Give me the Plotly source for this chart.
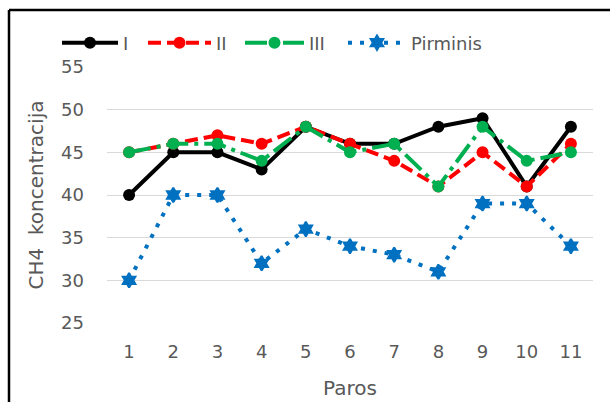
import plotly.graph_objects as go

# Daily CH4 concentration readings for three reactors and the initial feed
days = [1, 2, 3, 4, 5, 6, 7, 8, 9, 10, 11]
series_i = [40, 45, 45, 43, 48, 46, 46, 48, 49, 41, 48]
series_ii = [45, 46, 47, 46, 48, 46, 44, 41, 45, 41, 46]
series_iii = [45, 46, 46, 44, 48, 45, 46, 41, 48, 44, 45]
pirminis = [30, 40, 40, 32, 36, 34, 33, 31, 39, 39, 34]

y_ticks = [25, 30, 35, 40, 45, 50, 55]

FONT = "DejaVu Sans"
GREY = "#595959"

fig = go.Figure()
fig.add_trace(go.Scatter(
    x=days, y=series_i, name="I", mode="lines+markers", legend="legend",
    line=dict(color="#000000", width=4),
    marker=dict(symbol="circle", size=12, color="#000000"),
))
fig.add_trace(go.Scatter(
    x=days, y=series_ii, name="II", mode="lines+markers", legend="legend2",
    line=dict(color="#FF0000", width=4, dash="13px,6px"),
    marker=dict(symbol="circle", size=12, color="#FF0000"),
))
fig.add_trace(go.Scatter(
    x=days, y=series_iii, name="III", mode="lines+markers", legend="legend3",
    line=dict(color="#00B050", width=4, dash="22px,6px,4px,6px"),
    marker=dict(symbol="circle", size=12, color="#00B050"),
))
fig.add_trace(go.Scatter(
    x=days, y=pirminis, name="Pirminis", mode="lines+markers", legend="legend4",
    line=dict(color="#0070C0", width=4, dash="4px,8px"),
    marker=dict(symbol="hexagram", size=11, color="#0070C0",
                line=dict(color="#0070C0", width=2)),
))

# plot area: left 107px, right 593px, top 67px, bottom 323px
L, R, T, B = 107, 593, 67, 323
W_PX, H_PX = 610, 402


def px_x(px):
    return (px - L) / (R - L)


def px_y(py):
    return (B - py) / (B - T)


def legend_box(left_px, sample_w):
    return dict(
        orientation="h", x=px_x(left_px), y=px_y(43), xanchor="left", yanchor="middle",
        font=dict(family=FONT, size=18, color=GREY),
        itemwidth=sample_w, bgcolor="rgba(0,0,0,0)",
    )


fig.update_layout(
    width=W_PX, height=H_PX,
    margin=dict(l=L, r=W_PX - R, t=T, b=H_PX - B, autoexpand=False),
    paper_bgcolor="white", plot_bgcolor="white",
    font=dict(family=FONT, size=17, color=GREY),
    showlegend=True,
    legend=legend_box(57, 56),
    legend2=legend_box(143, 63),
    legend3=legend_box(240, 59),
    legend4=legend_box(343, 58),
    xaxis=dict(
        range=[0.5, 11.5], tickmode="array", tickvals=days,
        ticktext=[str(d) for d in days], automargin=False,
        showgrid=False, zeroline=False, showline=False,
        ticks="", ticklabelstandoff=16,
        tickfont=dict(family=FONT, size=18, color=GREY),
        title=dict(text="Paros", font=dict(family=FONT, size=20, color=GREY), standoff=19),
    ),
    yaxis=dict(
        range=[25, 55], tickmode="array", tickvals=y_ticks, automargin=False,
        showgrid=True, gridcolor="#D9D9D9", gridwidth=1.3,
        zeroline=False, showline=False, ticks="", ticklabelstandoff=22,
        tickfont=dict(family=FONT, size=18, color=GREY),
        title=dict(text="CH4  koncentracija", font=dict(family=FONT, size=20, color=GREY),
                   standoff=12),
    ),
    shapes=[
        dict(type="line", xref="paper", yref="paper",
             x0=px_x(9), y0=px_y(403), x1=px_x(9), y1=px_y(10),
             line=dict(color="#000000", width=2.5)),
        dict(type="line", xref="paper", yref="paper",
             x0=px_x(9), y0=px_y(10), x1=px_x(611), y1=px_y(10),
             line=dict(color="#000000", width=2.5)),
    ],
)

fig.write_html("out.html")
